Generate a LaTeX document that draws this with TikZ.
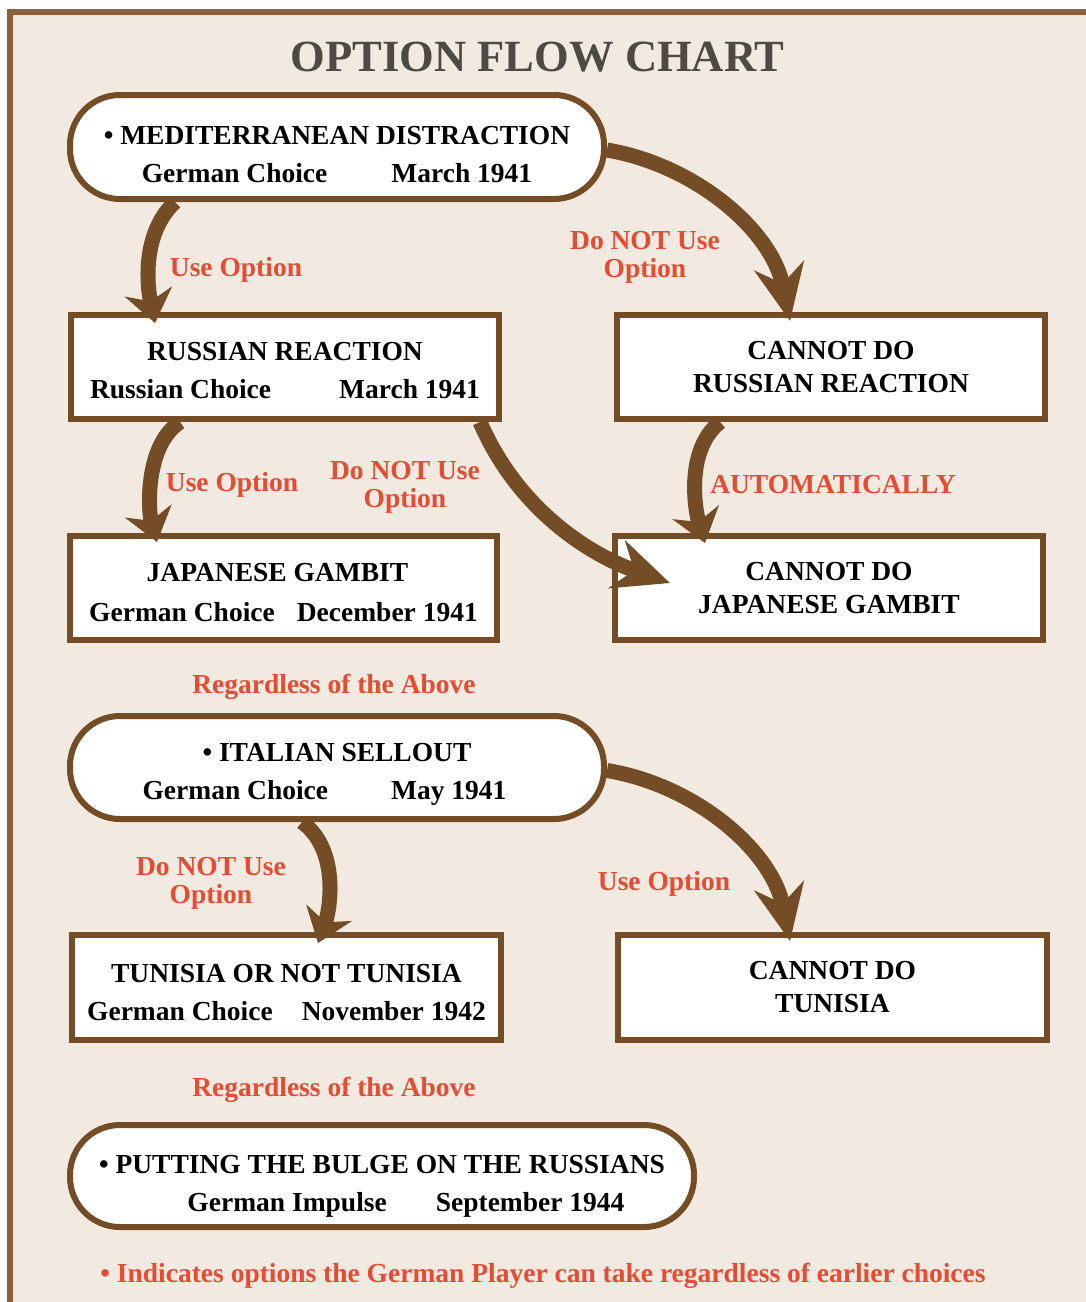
\documentclass[tikz,border=0pt]{standalone}
\usepackage{fontspec}
\setmainfont{Liberation Serif}
\usetikzlibrary{calc,arrows.meta}
\definecolor{framebrown}{RGB}{140,96,58}
\definecolor{boxbrown}{RGB}{116,76,38}
\definecolor{bgbeige}{RGB}{242,233,224}
\definecolor{optred}{RGB}{228,76,52}
\definecolor{titlegray}{RGB}{77,74,70}
\def\boxfont{\fontsize{27.5}{38}\selectfont\bfseries}
\def\cannotfont{\fontsize{27.5}{33}\selectfont\bfseries}
\def\labelfont{\fontsize{27.5}{28}\selectfont\bfseries}
\def\drop#1{\rule{0pt}{#1pt}}
\tikzset{
	rectbox/.style={draw=boxbrown, line width=6pt, fill=white, inner sep=0pt, align=center, font=\boxfont, minimum width=428pt, minimum height=104pt},
	cannotbox/.style={rectbox, font=\cannotfont},
	pillbox/.style={rectbox, rounded corners=50pt, minimum width=534pt},
	optlabel/.style={text=optred, align=center, font=\labelfont, inner sep=0pt, yshift=-3pt},
	shortarrow/.style={draw=boxbrown, line width=15pt, -{Stealth[length=32pt, width=48pt, inset=10pt]}},
	longarrow/.style={draw=boxbrown, line width=15pt, -{Stealth[length=56pt, width=50pt, inset=18pt]}}
}

\begin{document}
\begin{tikzpicture}[x=1pt, y=-1pt]
			%%%%% START %%%%%
			
			\useasboundingbox (0, 0) rectangle (1086, 1302);
			\fill[bgbeige] (9.5, 12) rectangle (1086, 1302);
			\draw[line width=6pt, color=framebrown] (9.5, 1302) -- (9.5, 12) -- (1086, 12);
			
			\node[font=\fontsize{44.6}{50}\selectfont\bfseries, text=titlegray] (title) at (537.5, 57) {OPTION FLOW CHART};
			
			\node[pillbox] (med) at (337, 147) {\drop{32.6}\textbullet\ MEDITERRANEAN DISTRACTION\\German Choice\hspace{64pt}March 1941};
			\node[rectbox] (rusr) at (285, 367) {\drop{25}RUSSIAN REACTION\\Russian Choice\hspace{68pt}March 1941};
			\node[cannotbox] (nors) at (831, 367) {CANNOT DO\\RUSSIAN REACTION};
			\node[rectbox, minimum width=427pt] (japg) at (283.5, 588) {\drop{28}JAPANESE GAMBIT\hspace*{12pt}\\[2pt]German Choice\hspace{22pt}December 1941};
			\node[cannotbox] (nojp) at (829, 588) {CANNOT DO\\JAPANESE GAMBIT};
			
			\node[optlabel] (regone) at (334, 684) {Regardless of the Above};
			
			\node[pillbox, minimum height=103pt] (ital) at (337, 767.5) {\drop{32.6}\textbullet\ ITALIAN SELLOUT\\German Choice\hspace{63pt}May 1941\hspace*{25pt}};
			\node[rectbox, minimum width=429pt, minimum height=105pt] (tuni) at (286.5, 987.5) {\drop{27.6}TUNISIA OR NOT TUNISIA\\German Choice\hspace{29pt}November 1942};
			\node[cannotbox, minimum width=429pt, minimum height=105pt] (notu) at (832.5, 987.5) {CANNOT DO\\TUNISIA};
			
			\node[optlabel] (regtwo) at (334, 1087) {Regardless of the Above};
			
			\node[pillbox, minimum width=624pt, minimum height=102pt] (bulge) at (382, 1176) {\drop{38.6}\textbullet\ PUTTING THE BULGE ON THE RUSSIANS\\\hspace*{48pt}German Impulse\hspace{49pt}September 1944};
			
			\node[optlabel] (footnote) at (543, 1273) {\textbullet\ Indicates options the German Player can take regardless of earlier choices};
			
			% arrows
			\draw[shortarrow] ([xshift=-162pt]med.south) .. controls (140, 235) and (148, 290) .. ([xshift=-130pt, yshift=-11pt]rusr.north);
			\draw[longarrow] ([yshift=-3pt]med.east) .. controls (695, 165) and (772, 230) .. ([xshift=-41pt, yshift=-9pt]nors.north);
			\draw[shortarrow] ([xshift=-105pt]rusr.south) .. controls (145, 445) and (148, 510) .. ([xshift=-126.5pt, yshift=-9pt]japg.north);
			\draw[longarrow] ([xshift=-22pt]rusr.south east) .. controls (518, 510) and (590, 555) .. ([xshift=58pt, yshift=5pt]nojp.west);
			\draw[shortarrow] ([xshift=-111pt]nors.south) .. controls (685, 450) and (695, 510) .. ([xshift=-124pt, yshift=-10pt]nojp.north);
			\draw[shortarrow] ([xshift=-35pt]ital.south) .. controls (340, 850) and (330, 910) .. ([xshift=31.5pt, yshift=-11pt]tuni.north);
			\draw[longarrow] ([yshift=-3pt]ital.east) .. controls (695, 785) and (772, 850) .. ([xshift=-42.5pt, yshift=-9pt]notu.north);
			
			% arrow labels
			\node[optlabel] (usemed) at (236, 267) {Use Option};
			\node[optlabel] (notmed) at (645, 254) {Do NOT Use\\Option};
			\node[optlabel] (userus) at (232, 482) {Use Option};
			\node[optlabel] (notrus) at (405, 484) {Do NOT Use\\Option};
			\node[optlabel] (autom) at (833, 482) {AUTOMATICALLY};
			\node[optlabel] (notital) at (211, 880) {Do NOT Use\\Option};
			\node[optlabel] (useital) at (664, 881) {Use Option};
			
			%%%%% END %%%%%
\end{tikzpicture}
\end{document}
